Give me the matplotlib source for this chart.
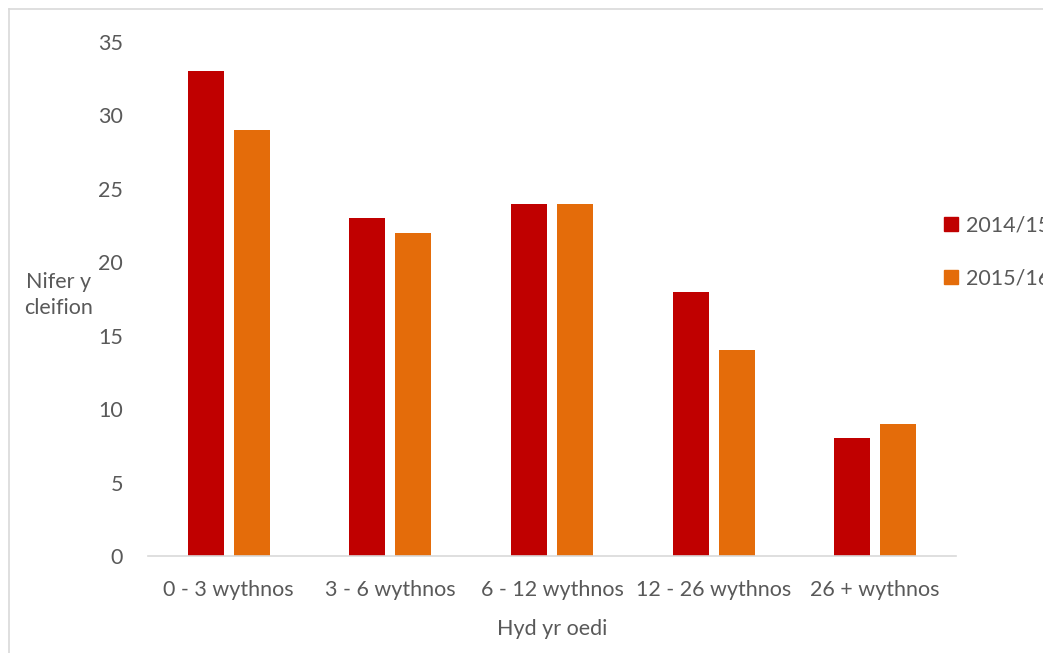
import numpy as np
import matplotlib.pyplot as plt
from matplotlib.lines import Line2D

plt.rcParams['font.family'] = ['Lato', 'DejaVu Sans']

categories = ['0 - 3 wythnos', '3 - 6 wythnos', '6 - 12 wythnos', '12 - 26 wythnos', '26 + wythnos']
series_names = ['2014/15', '2015/16']
values_1415 = [33, 23, 24, 18, 8]
values_1516 = [29, 22, 24, 14, 9]
colors = ['#C00000', '#E46C0A']

text_color = '#595959'
fs = 15.5

fig = plt.figure(figsize=(10.43, 6.53), dpi=100)
ax = fig.add_axes([0.1419, 0.1486, 0.7747, 0.7871])

x = np.arange(len(categories))
w = 0.223
gap = 0.062
ax.bar(x - (w + gap) / 2, values_1415, width=w, color=colors[0], label=series_names[0])
ax.bar(x + (w + gap) / 2, values_1516, width=w, color=colors[1], label=series_names[1])

ax.set_xlim(-0.5, len(categories) - 0.5)
ax.set_ylim(0, 35)
ax.set_yticks(range(0, 36, 5))
ax.set_xticks(x)
ax.set_xticklabels(categories)
ax.tick_params(axis='both', length=0, labelsize=fs, colors=text_color)
ax.tick_params(axis='y', pad=18)
ax.tick_params(axis='x', pad=17)

for side in ['top', 'right', 'left']:
    ax.spines[side].set_visible(False)
ax.spines['bottom'].set_color('#D9D9D9')
ax.spines['bottom'].set_linewidth(1.2)

ax.set_xlabel('Hyd yr oedi', fontsize=fs, color=text_color, labelpad=14)
fig.text(0.0565, 0.548, 'Nifer y\ncleifion', fontsize=fs, color=text_color,
         ha='center', va='center', linespacing=1.4)

# legend sits at the right edge and runs past the figure border
handles = [Line2D([], [], marker='s', linestyle='', markersize=10,
                  color=c) for c in colors]
leg = fig.legend(handles, series_names, loc='upper left',
                 bbox_to_anchor=(0.879, 0.7), frameon=False,
                 fontsize=fs, handletextpad=0.0, labelspacing=1.55,
                 handlelength=1.4)
for t in leg.get_texts():
    t.set_color(text_color)

# thin outline along the top and left edges of the chart area
fig.add_artist(Line2D([0.0086, 1], [0.9862, 0.9862], color='#D9D9D9', lw=1.2,
                      transform=fig.transFigure))
fig.add_artist(Line2D([0.0086, 0.0086], [0, 0.9862], color='#D9D9D9', lw=1.2,
                      transform=fig.transFigure))

fig.savefig('out.png', dpi=100)
